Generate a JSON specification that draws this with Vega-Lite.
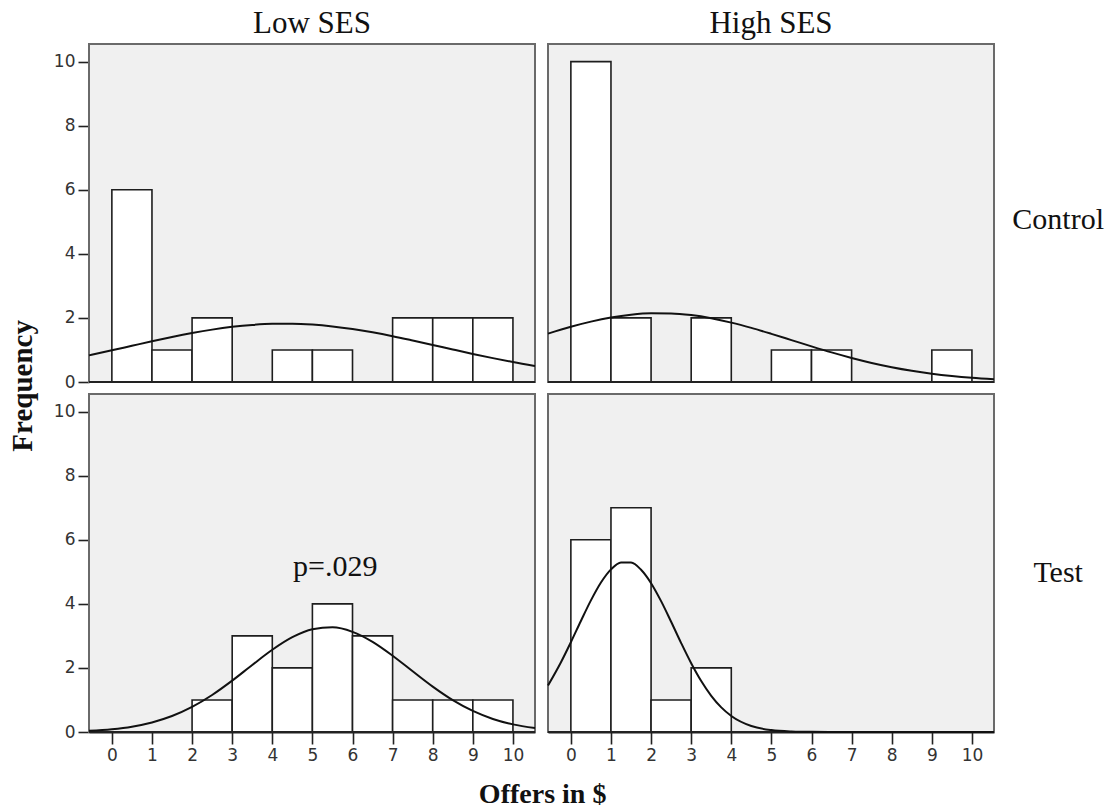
{
  "$schema": "https://vega.github.io/schema/vega-lite/v6.json",
  "padding": {"left": 8, "top": 8, "right": 0, "bottom": 0},
  "background": "white",
  "bounds": "flush",
  "datasets": {
    "all": [
      {"ses": "Low SES", "cond": "Control", "type": "bar", "x0": 0, "x1": 1, "n": 6},
      {"ses": "Low SES", "cond": "Control", "type": "bar", "x0": 1, "x1": 2, "n": 1},
      {"ses": "Low SES", "cond": "Control", "type": "bar", "x0": 2, "x1": 3, "n": 2},
      {"ses": "Low SES", "cond": "Control", "type": "bar", "x0": 4, "x1": 5, "n": 1},
      {"ses": "Low SES", "cond": "Control", "type": "bar", "x0": 5, "x1": 6, "n": 1},
      {"ses": "Low SES", "cond": "Control", "type": "bar", "x0": 7, "x1": 8, "n": 2},
      {"ses": "Low SES", "cond": "Control", "type": "bar", "x0": 8, "x1": 9, "n": 2},
      {"ses": "Low SES", "cond": "Control", "type": "bar", "x0": 9, "x1": 10, "n": 2},
      {"ses": "High SES", "cond": "Control", "type": "bar", "x0": 0, "x1": 1, "n": 10},
      {"ses": "High SES", "cond": "Control", "type": "bar", "x0": 1, "x1": 2, "n": 2},
      {"ses": "High SES", "cond": "Control", "type": "bar", "x0": 3, "x1": 4, "n": 2},
      {"ses": "High SES", "cond": "Control", "type": "bar", "x0": 5, "x1": 6, "n": 1},
      {"ses": "High SES", "cond": "Control", "type": "bar", "x0": 6, "x1": 7, "n": 1},
      {"ses": "High SES", "cond": "Control", "type": "bar", "x0": 9, "x1": 10, "n": 1},
      {"ses": "Low SES", "cond": "Test", "type": "bar", "x0": 2, "x1": 3, "n": 1},
      {"ses": "Low SES", "cond": "Test", "type": "bar", "x0": 3, "x1": 4, "n": 3},
      {"ses": "Low SES", "cond": "Test", "type": "bar", "x0": 4, "x1": 5, "n": 2},
      {"ses": "Low SES", "cond": "Test", "type": "bar", "x0": 5, "x1": 6, "n": 4},
      {"ses": "Low SES", "cond": "Test", "type": "bar", "x0": 6, "x1": 7, "n": 3},
      {"ses": "Low SES", "cond": "Test", "type": "bar", "x0": 7, "x1": 8, "n": 1},
      {"ses": "Low SES", "cond": "Test", "type": "bar", "x0": 8, "x1": 9, "n": 1},
      {"ses": "Low SES", "cond": "Test", "type": "bar", "x0": 9, "x1": 10, "n": 1},
      {"ses": "High SES", "cond": "Test", "type": "bar", "x0": 0, "x1": 1, "n": 6},
      {"ses": "High SES", "cond": "Test", "type": "bar", "x0": 1, "x1": 2, "n": 7},
      {"ses": "High SES", "cond": "Test", "type": "bar", "x0": 2, "x1": 3, "n": 1},
      {"ses": "High SES", "cond": "Test", "type": "bar", "x0": 3, "x1": 4, "n": 2},

      {"ses": "Low SES", "cond": "Control", "type": "curve", "x": -0.57, "y": 0.831},
      {"ses": "Low SES", "cond": "Control", "type": "curve", "x": 0, "y": 0.988},
      {"ses": "Low SES", "cond": "Control", "type": "curve", "x": 0.5, "y": 1.129},
      {"ses": "Low SES", "cond": "Control", "type": "curve", "x": 1, "y": 1.27},
      {"ses": "Low SES", "cond": "Control", "type": "curve", "x": 1.5, "y": 1.405},
      {"ses": "Low SES", "cond": "Control", "type": "curve", "x": 2, "y": 1.528},
      {"ses": "Low SES", "cond": "Control", "type": "curve", "x": 2.5, "y": 1.635},
      {"ses": "Low SES", "cond": "Control", "type": "curve", "x": 3, "y": 1.721},
      {"ses": "Low SES", "cond": "Control", "type": "curve", "x": 3.5, "y": 1.782},
      {"ses": "Low SES", "cond": "Control", "type": "curve", "x": 4, "y": 1.815},
      {"ses": "Low SES", "cond": "Control", "type": "curve", "x": 4.5, "y": 1.818},
      {"ses": "Low SES", "cond": "Control", "type": "curve", "x": 5, "y": 1.791},
      {"ses": "Low SES", "cond": "Control", "type": "curve", "x": 5.5, "y": 1.735},
      {"ses": "Low SES", "cond": "Control", "type": "curve", "x": 6, "y": 1.654},
      {"ses": "Low SES", "cond": "Control", "type": "curve", "x": 6.5, "y": 1.551},
      {"ses": "Low SES", "cond": "Control", "type": "curve", "x": 7, "y": 1.431},
      {"ses": "Low SES", "cond": "Control", "type": "curve", "x": 7.5, "y": 1.297},
      {"ses": "Low SES", "cond": "Control", "type": "curve", "x": 8, "y": 1.158},
      {"ses": "Low SES", "cond": "Control", "type": "curve", "x": 8.5, "y": 1.016},
      {"ses": "Low SES", "cond": "Control", "type": "curve", "x": 9, "y": 0.877},
      {"ses": "Low SES", "cond": "Control", "type": "curve", "x": 9.5, "y": 0.745},
      {"ses": "Low SES", "cond": "Control", "type": "curve", "x": 10, "y": 0.622},
      {"ses": "Low SES", "cond": "Control", "type": "curve", "x": 10.55, "y": 0.5},

      {"ses": "High SES", "cond": "Control", "type": "curve", "x": -0.57, "y": 1.511},
      {"ses": "High SES", "cond": "Control", "type": "curve", "x": 0, "y": 1.724},
      {"ses": "High SES", "cond": "Control", "type": "curve", "x": 0.5, "y": 1.884},
      {"ses": "High SES", "cond": "Control", "type": "curve", "x": 1, "y": 2.013},
      {"ses": "High SES", "cond": "Control", "type": "curve", "x": 1.5, "y": 2.102},
      {"ses": "High SES", "cond": "Control", "type": "curve", "x": 2, "y": 2.146},
      {"ses": "High SES", "cond": "Control", "type": "curve", "x": 2.5, "y": 2.141},
      {"ses": "High SES", "cond": "Control", "type": "curve", "x": 3, "y": 2.088},
      {"ses": "High SES", "cond": "Control", "type": "curve", "x": 3.5, "y": 1.99},
      {"ses": "High SES", "cond": "Control", "type": "curve", "x": 4, "y": 1.854},
      {"ses": "High SES", "cond": "Control", "type": "curve", "x": 4.5, "y": 1.689},
      {"ses": "High SES", "cond": "Control", "type": "curve", "x": 5, "y": 1.503},
      {"ses": "High SES", "cond": "Control", "type": "curve", "x": 5.5, "y": 1.308},
      {"ses": "High SES", "cond": "Control", "type": "curve", "x": 6, "y": 1.112},
      {"ses": "High SES", "cond": "Control", "type": "curve", "x": 6.5, "y": 0.924},
      {"ses": "High SES", "cond": "Control", "type": "curve", "x": 7, "y": 0.751},
      {"ses": "High SES", "cond": "Control", "type": "curve", "x": 7.5, "y": 0.596},
      {"ses": "High SES", "cond": "Control", "type": "curve", "x": 8, "y": 0.463},
      {"ses": "High SES", "cond": "Control", "type": "curve", "x": 8.5, "y": 0.351},
      {"ses": "High SES", "cond": "Control", "type": "curve", "x": 9, "y": 0.26},
      {"ses": "High SES", "cond": "Control", "type": "curve", "x": 9.5, "y": 0.189},
      {"ses": "High SES", "cond": "Control", "type": "curve", "x": 10, "y": 0.134},
      {"ses": "High SES", "cond": "Control", "type": "curve", "x": 10.55, "y": 0.089},

      {"ses": "Low SES", "cond": "Test", "type": "curve", "x": -0.57, "y": 0.04},
      {"ses": "Low SES", "cond": "Test", "type": "curve", "x": 0, "y": 0.089},
      {"ses": "Low SES", "cond": "Test", "type": "curve", "x": 0.5, "y": 0.167},
      {"ses": "Low SES", "cond": "Test", "type": "curve", "x": 1, "y": 0.298},
      {"ses": "Low SES", "cond": "Test", "type": "curve", "x": 1.5, "y": 0.498},
      {"ses": "Low SES", "cond": "Test", "type": "curve", "x": 2, "y": 0.782},
      {"ses": "Low SES", "cond": "Test", "type": "curve", "x": 2.5, "y": 1.155},
      {"ses": "Low SES", "cond": "Test", "type": "curve", "x": 3, "y": 1.603},
      {"ses": "Low SES", "cond": "Test", "type": "curve", "x": 3.5, "y": 2.092},
      {"ses": "Low SES", "cond": "Test", "type": "curve", "x": 4, "y": 2.566},
      {"ses": "Low SES", "cond": "Test", "type": "curve", "x": 4.5, "y": 2.958},
      {"ses": "Low SES", "cond": "Test", "type": "curve", "x": 5, "y": 3.206},
      {"ses": "Low SES", "cond": "Test", "type": "curve", "x": 5.5, "y": 3.266},
      {"ses": "Low SES", "cond": "Test", "type": "curve", "x": 6, "y": 3.127},
      {"ses": "Low SES", "cond": "Test", "type": "curve", "x": 6.5, "y": 2.815},
      {"ses": "Low SES", "cond": "Test", "type": "curve", "x": 7, "y": 2.382},
      {"ses": "Low SES", "cond": "Test", "type": "curve", "x": 7.5, "y": 1.895},
      {"ses": "Low SES", "cond": "Test", "type": "curve", "x": 8, "y": 1.417},
      {"ses": "Low SES", "cond": "Test", "type": "curve", "x": 8.5, "y": 0.995},
      {"ses": "Low SES", "cond": "Test", "type": "curve", "x": 9, "y": 0.658},
      {"ses": "Low SES", "cond": "Test", "type": "curve", "x": 9.5, "y": 0.408},
      {"ses": "Low SES", "cond": "Test", "type": "curve", "x": 10, "y": 0.238},
      {"ses": "Low SES", "cond": "Test", "type": "curve", "x": 10.55, "y": 0.123},

      {"ses": "High SES", "cond": "Test", "type": "curve", "x": -0.57, "y": 1.452},
      {"ses": "High SES", "cond": "Test", "type": "curve", "x": -0.25, "y": 2.171},
      {"ses": "High SES", "cond": "Test", "type": "curve", "x": 0, "y": 2.803},
      {"ses": "High SES", "cond": "Test", "type": "curve", "x": 0.25, "y": 3.466},
      {"ses": "High SES", "cond": "Test", "type": "curve", "x": 0.5, "y": 4.108},
      {"ses": "High SES", "cond": "Test", "type": "curve", "x": 0.75, "y": 4.666},
      {"ses": "High SES", "cond": "Test", "type": "curve", "x": 1, "y": 5.077},
      {"ses": "High SES", "cond": "Test", "type": "curve", "x": 1.25, "y": 5.294},
      {"ses": "High SES", "cond": "Test", "type": "curve", "x": 1.5, "y": 5.289},
      {"ses": "High SES", "cond": "Test", "type": "curve", "x": 1.75, "y": 5.064},
      {"ses": "High SES", "cond": "Test", "type": "curve", "x": 2, "y": 4.645},
      {"ses": "High SES", "cond": "Test", "type": "curve", "x": 2.25, "y": 4.084},
      {"ses": "High SES", "cond": "Test", "type": "curve", "x": 2.5, "y": 3.44},
      {"ses": "High SES", "cond": "Test", "type": "curve", "x": 2.75, "y": 2.776},
      {"ses": "High SES", "cond": "Test", "type": "curve", "x": 3, "y": 2.147},
      {"ses": "High SES", "cond": "Test", "type": "curve", "x": 3.25, "y": 1.591},
      {"ses": "High SES", "cond": "Test", "type": "curve", "x": 3.5, "y": 1.13},
      {"ses": "High SES", "cond": "Test", "type": "curve", "x": 3.75, "y": 0.769},
      {"ses": "High SES", "cond": "Test", "type": "curve", "x": 4, "y": 0.501},
      {"ses": "High SES", "cond": "Test", "type": "curve", "x": 4.5, "y": 0.187},
      {"ses": "High SES", "cond": "Test", "type": "curve", "x": 5, "y": 0.059},
      {"ses": "High SES", "cond": "Test", "type": "curve", "x": 5.5, "y": 0.016},
      {"ses": "High SES", "cond": "Test", "type": "curve", "x": 6, "y": 0.004},
      {"ses": "High SES", "cond": "Test", "type": "curve", "x": 7, "y": 0},
      {"ses": "High SES", "cond": "Test", "type": "curve", "x": 8, "y": 0},
      {"ses": "High SES", "cond": "Test", "type": "curve", "x": 9, "y": 0},
      {"ses": "High SES", "cond": "Test", "type": "curve", "x": 10, "y": 0},
      {"ses": "High SES", "cond": "Test", "type": "curve", "x": 10.55, "y": 0},

      {"ses": "Low SES", "cond": "Test", "type": "note", "x": 5.57, "y": 5.15, "label": "p=.029"},
      {"ses": "High SES", "cond": "Control", "type": "note", "x": 12.15, "y": 5.06, "label": "Control"},
      {"ses": "High SES", "cond": "Test", "type": "note", "x": 12.15, "y": 4.96, "label": "Test"},
      {"ses": "Low SES", "cond": "Test", "type": "axtitle", "x": 10.74, "y": -1.97, "label": "Offers in $"},
      {"ses": "Low SES", "cond": "Control", "type": "ytitle", "x": -2.215, "y": -0.12, "label": "Frequency"}
    ]
  },
  "data": {"name": "all"},
  "facet": {
    "column": {
      "field": "ses", "type": "nominal", "sort": ["Low SES", "High SES"],
      "header": {
        "title": null, "labelOrient": "top",
        "labelFont": "Liberation Serif", "labelFontSize": 31, "labelColor": "#111", "labelPadding": 4
      }
    },
    "row": {
      "field": "cond", "type": "nominal", "sort": ["Control", "Test"],
      "header": {"title": null, "labels": false}
    }
  },
  "spacing": {"row": 12, "column": 13},
  "spec": {
    "width": 446,
    "height": 338,
    "layer": [
      {
        "transform": [{"filter": "datum.type === 'bar'"}],
        "mark": {"type": "rect", "fill": "white", "stroke": "#1e1e1e", "strokeWidth": 1.6},
        "encoding": {
          "x": {"field": "x0", "type": "quantitative",
                "scale": {"domain": [-0.57, 10.55], "nice": false, "zero": false},
                "axis": {"values": [0,1,2,3,4,5,6,7,8,9,10], "title": null, "grid": false,
                         "labelFont": "DejaVu Sans", "labelFontSize": 17, "labelColor": "#333",
                         "tickSize": 12, "tickColor": "#222", "tickWidth": 1.6, "labelPadding": 3,
                         "domainColor": "#222", "domainWidth": 2}},
          "x2": {"field": "x1"},
          "y": {"field": "n", "type": "quantitative",
                "scale": {"domain": [0, 10.55], "nice": false},
                "axis": {"values": [0,2,4,6,8,10], "title": null, "grid": false, "domain": false,
                         "labelFont": "DejaVu Sans", "labelFontSize": 17, "labelColor": "#333",
                         "tickSize": 11, "tickColor": "#222", "tickWidth": 1.6, "labelPadding": 3}},
          "y2": {"datum": 0}
        }
      },
      {
        "transform": [{"filter": "datum.type === 'curve' && datum.x === 0"}],
        "mark": {"type": "rule", "color": "#222", "strokeWidth": 2},
        "encoding": {"y": {"datum": 0}}
      },
      {
        "transform": [{"filter": "datum.type === 'curve'"}],
        "mark": {"type": "line", "color": "#111", "strokeWidth": 2, "interpolate": "monotone"},
        "encoding": {
          "x": {"field": "x", "type": "quantitative"},
          "y": {"field": "y", "type": "quantitative"}
        }
      },
      {
        "transform": [{"filter": "datum.type === 'note'"}],
        "mark": {"type": "text", "font": "Liberation Serif", "fontSize": 30, "color": "#111", "baseline": "middle", "align": "center", "clip": false},
        "encoding": {
          "x": {"field": "x", "type": "quantitative"},
          "y": {"field": "y", "type": "quantitative"},
          "text": {"field": "label"}
        }
      },
      {
        "transform": [{"filter": "datum.type === 'axtitle'"}],
        "mark": {"type": "text", "font": "Liberation Serif", "fontSize": 28, "fontWeight": "bold", "color": "#111", "baseline": "middle", "align": "center", "clip": false},
        "encoding": {
          "x": {"field": "x", "type": "quantitative"},
          "y": {"field": "y", "type": "quantitative"},
          "text": {"field": "label"}
        }
      },
      {
        "transform": [{"filter": "datum.type === 'ytitle'"}],
        "mark": {"type": "text", "font": "Liberation Serif", "fontSize": 29, "fontWeight": "bold", "color": "#111", "baseline": "middle", "align": "center", "angle": 270, "clip": false},
        "encoding": {
          "x": {"field": "x", "type": "quantitative"},
          "y": {"field": "y", "type": "quantitative"},
          "text": {"field": "label"}
        }
      }
    ]
  },
  "config": {
    "view": {"stroke": "#6a6a6a", "strokeWidth": 2, "fill": "#f0f0f0"}
  }
}
